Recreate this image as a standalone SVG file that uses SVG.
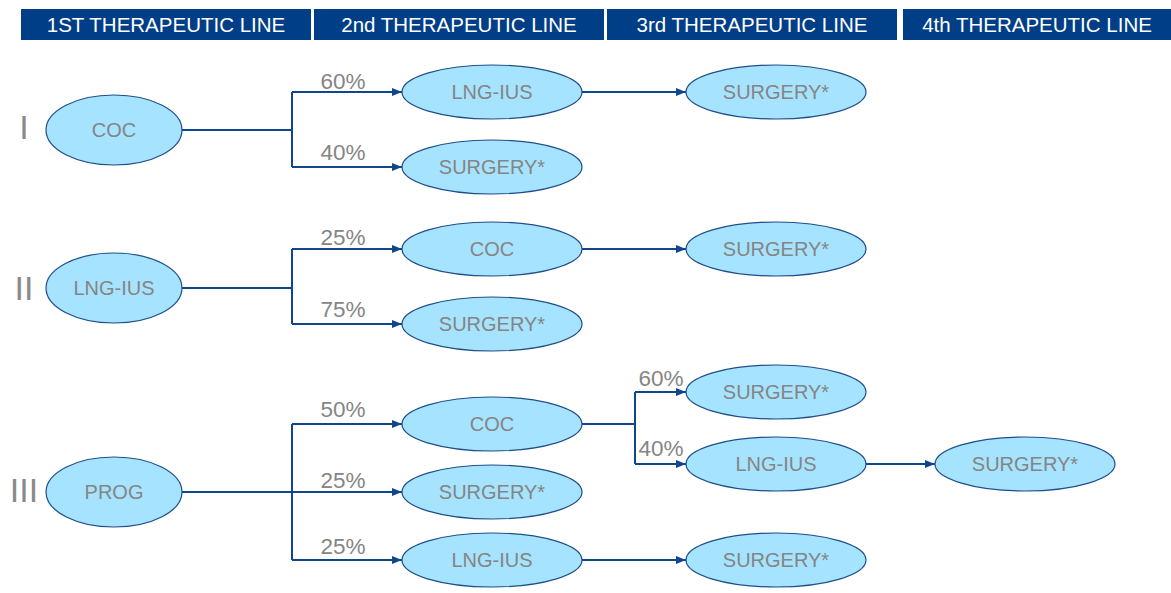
<svg xmlns="http://www.w3.org/2000/svg" width="1171" height="593" viewBox="0 0 1171 593">
<style>
.hdr{fill:#003F87}
.ht{fill:#fff;font-family:"Liberation Sans",Arial,sans-serif;font-size:20.5px;text-anchor:middle}
.n ellipse{fill:#A5E3FF;stroke:#1F4E8C;stroke-width:1.2}
.n text{fill:#858585;font-family:"Liberation Sans",Arial,sans-serif;font-size:20px;text-anchor:middle;dominant-baseline:central}
.c path{fill:none;stroke:#0F468C;stroke-width:2}
.p{fill:#858585;font-family:"Liberation Sans",Arial,sans-serif;font-size:22.5px;text-anchor:middle}
.r{fill:#8A8A8A;font-family:"Liberation Sans",Arial,sans-serif;font-size:34px;text-anchor:middle;dominant-baseline:central}
</style>
<defs>
<marker id="a" viewBox="0 0 10 8" refX="10" refY="4" markerWidth="10" markerHeight="8" markerUnits="userSpaceOnUse" orient="auto"><path d="M0,0L10,4L0,8z" fill="#0F468C"/></marker>
</defs>
<rect width="1171" height="593" fill="#fff"/>
<g id="headers">
<rect class="hdr" x="21" y="9" width="290" height="31"/>
<rect class="hdr" x="314" y="9" width="290" height="31"/>
<rect class="hdr" x="607" y="9" width="290" height="31"/>
<rect class="hdr" x="903" y="9" width="268" height="31"/>
<text class="ht" x="166" y="32">1ST THERAPEUTIC LINE</text>
<text class="ht" x="459" y="32">2nd THERAPEUTIC LINE</text>
<text class="ht" x="752" y="32">3rd THERAPEUTIC LINE</text>
<text class="ht" x="1037" y="32">4th THERAPEUTIC LINE</text>
</g>
<g id="roman">
<text class="r" x="24" y="127">I</text>
<text class="r" x="24" y="288">II</text>
<text class="r" x="24" y="490">III</text>
</g>
<g class="c" id="connectors">
<path d="M182,130H292"/>
<path d="M292,92V167"/>
<path d="M292,92H402" marker-end="url(#a)"/>
<path d="M292,167H402" marker-end="url(#a)"/>
<path d="M582,92H686" marker-end="url(#a)"/>
<path d="M182,288H292"/>
<path d="M292,249V324"/>
<path d="M292,249H402" marker-end="url(#a)"/>
<path d="M292,324H402" marker-end="url(#a)"/>
<path d="M582,249H686" marker-end="url(#a)"/>
<path d="M182,492H292"/>
<path d="M292,424V560"/>
<path d="M292,424H402" marker-end="url(#a)"/>
<path d="M292,492H402" marker-end="url(#a)"/>
<path d="M292,560H402" marker-end="url(#a)"/>
<path d="M582,424H635"/>
<path d="M635,392V464"/>
<path d="M635,392H686" marker-end="url(#a)"/>
<path d="M635,464H686" marker-end="url(#a)"/>
<path d="M866,464H935" marker-end="url(#a)"/>
<path d="M582,560H686" marker-end="url(#a)"/>
</g>
<g id="labels">
<text class="p" x="343" y="89">60%</text>
<text class="p" x="343" y="160">40%</text>
<text class="p" x="343" y="245">25%</text>
<text class="p" x="343" y="317">75%</text>
<text class="p" x="343" y="417">50%</text>
<text class="p" x="343" y="488">25%</text>
<text class="p" x="343" y="554">25%</text>
<text class="p" x="661" y="386">60%</text>
<text class="p" x="661" y="456">40%</text>
</g>
<g class="n" id="n1"><ellipse cx="114" cy="130" rx="68" ry="35"/><text x="114" y="130">COC</text></g>
<g class="n" id="n2"><ellipse cx="492" cy="92" rx="90" ry="27"/><text x="492" y="92">LNG-IUS</text></g>
<g class="n" id="n3"><ellipse cx="776" cy="92" rx="90" ry="27"/><text x="776" y="92">SURGERY*</text></g>
<g class="n" id="n4"><ellipse cx="492" cy="167" rx="90" ry="27"/><text x="492" y="167">SURGERY*</text></g>
<g class="n" id="n5"><ellipse cx="114" cy="288" rx="68" ry="35"/><text x="114" y="288">LNG-IUS</text></g>
<g class="n" id="n6"><ellipse cx="492" cy="249" rx="90" ry="27"/><text x="492" y="249">COC</text></g>
<g class="n" id="n7"><ellipse cx="776" cy="249" rx="90" ry="27"/><text x="776" y="249">SURGERY*</text></g>
<g class="n" id="n8"><ellipse cx="492" cy="324" rx="90" ry="27"/><text x="492" y="324">SURGERY*</text></g>
<g class="n" id="n9"><ellipse cx="114" cy="492" rx="68" ry="35"/><text x="114" y="492">PROG</text></g>
<g class="n" id="n10"><ellipse cx="492" cy="424" rx="90" ry="27"/><text x="492" y="424">COC</text></g>
<g class="n" id="n11"><ellipse cx="492" cy="492" rx="90" ry="27"/><text x="492" y="492">SURGERY*</text></g>
<g class="n" id="n12"><ellipse cx="492" cy="560" rx="90" ry="27"/><text x="492" y="560">LNG-IUS</text></g>
<g class="n" id="n13"><ellipse cx="776" cy="392" rx="90" ry="27"/><text x="776" y="392">SURGERY*</text></g>
<g class="n" id="n14"><ellipse cx="776" cy="464" rx="90" ry="27"/><text x="776" y="464">LNG-IUS</text></g>
<g class="n" id="n15"><ellipse cx="1025" cy="464" rx="90" ry="27"/><text x="1025" y="464">SURGERY*</text></g>
<g class="n" id="n16"><ellipse cx="776" cy="560" rx="90" ry="27"/><text x="776" y="560">SURGERY*</text></g>
</svg>
